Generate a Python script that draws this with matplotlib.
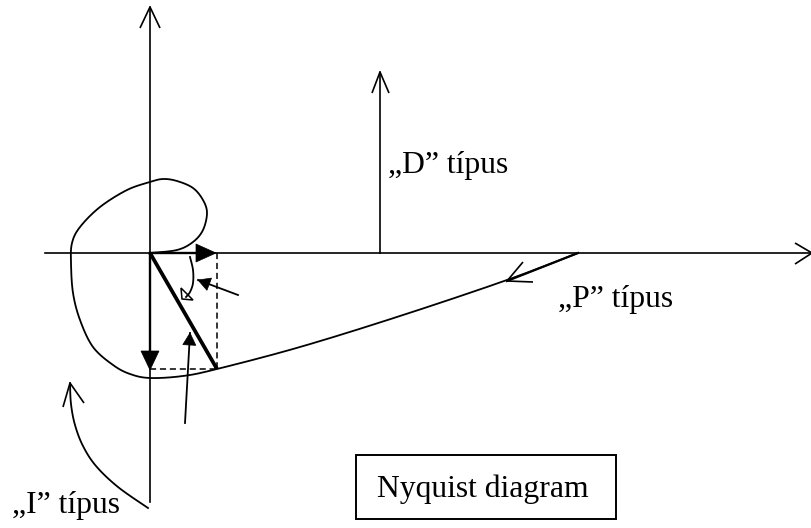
import numpy as np
import matplotlib
matplotlib.use("Agg")
import matplotlib.pyplot as plt
from matplotlib.patches import Polygon, Rectangle

# ---- diagram geometry (pixel coordinates) ----
origin = (150, 253)
h_axis_x = [45, 810]
v_axis_y = [7, 502]
h_axis_head = [(795, 243), (812, 253), (795, 264)]
v_axis_head = [(140, 28), (150, 7), (160, 28)]

d_arrow_x = 380
d_arrow_y = [253, 72]
d_arrow_head = [(372, 93), (380, 72), (389, 93)]

nyquist_x = [150, 177, 193, 203, 207, 203, 193, 177, 163, 150, 127, 100, 80, 72, 71,
             73, 80, 93, 113, 130, 150, 183, 217, 300, 400, 507, 578]
nyquist_y = [253, 250, 242, 230, 213, 200, 188, 181, 179, 182, 190, 207, 227, 243, 263,
             293, 320, 347, 365, 374, 378, 376, 369, 347, 316, 280, 253]

p_arrow_x = [578, 507]
p_arrow_y = [253, 281]
p_arrow_head = [(523, 262), (507, 281), (533, 282)]

vector_end = (217, 369)
re_head = [(216, 253), (196, 244), (196, 262)]
im_head = [(150, 370), (141, 351), (159, 351)]

angle_arc_x = [190, 193, 193, 190, 186]
angle_arc_y = [257, 270, 283, 292, 297]
angle_head = [(181, 288), (182, 299), (193, 300)]

pointer1 = [(238, 295), (198, 280)]
pointer2 = [(185, 423), (190, 333)]

i_curve_x = [148, 118, 96, 83, 75, 71, 70]
i_curve_y = [508, 487, 466, 446, 425, 404, 383]
i_head = [(63, 407), (70, 383), (84, 403)]

labels = ["\u201eD\u201d típus", "\u201eP\u201d típus", "\u201eI\u201d típus", "Nyquist diagram"]
label_pos = [(388, 173), (558, 307), (12, 513), (377, 497)]
box = (356, 455, 616, 519)

W, H = 812, 528
fig = plt.figure(figsize=(W / 100, H / 100), dpi=100)
ax = fig.add_axes([0, 0, 1, 1])
ax.set_xlim(0, W)
ax.set_ylim(H, 0)
ax.axis("off")

lw = 1.2
k = "black"


def catmull(xs, ys, n=20):
    p = np.column_stack([xs, ys]).astype(float)
    p = np.vstack([p[0], p, p[-1]])
    out = []
    for i in range(1, len(p) - 2):
        p0, p1, p2, p3 = p[i - 1], p[i], p[i + 1], p[i + 2]
        t = np.linspace(0, 1, n, endpoint=False)[:, None]
        pts = 0.5 * ((2 * p1) + (-p0 + p2) * t + (2 * p0 - 5 * p1 + 4 * p2 - p3) * t ** 2
                     + (-p0 + 3 * p1 - 3 * p2 + p3) * t ** 3)
        out.append(pts)
    out.append(p[-2][None, :])
    out = np.vstack(out)
    return out[:, 0], out[:, 1]


def polyline(pts, width=lw):
    xs, ys = zip(*pts)
    ax.plot(xs, ys, color=k, lw=width, solid_capstyle="butt", solid_joinstyle="miter")


def filled_head(tail, tip, length=12, half=6):
    tail = np.array(tail, float)
    tip = np.array(tip, float)
    d = tip - tail
    d /= np.hypot(*d)
    nrm = np.array([-d[1], d[0]])
    base = tip - d * length
    ax.add_patch(Polygon([tip, base + nrm * half, base - nrm * half], closed=True,
                         facecolor=k, edgecolor=k, lw=0.5))


# axes
ax.plot(h_axis_x, [origin[1]] * 2, color=k, lw=lw)
ax.plot([origin[0]] * 2, v_axis_y, color=k, lw=lw)
polyline(h_axis_head)
polyline(v_axis_head)

# D type
ax.plot([d_arrow_x] * 2, d_arrow_y, color=k, lw=lw)
polyline(d_arrow_head)

# Nyquist curve
cx, cy = catmull(nyquist_x, nyquist_y)
ax.plot(cx, cy, color=k, lw=1.3)

# P arrow
ax.plot(p_arrow_x, p_arrow_y, color=k, lw=1.6)
polyline(p_arrow_head)

# vector and components
ax.plot([origin[0], vector_end[0]], [origin[1], vector_end[1]], color=k, lw=2.7,
        solid_capstyle="butt")
ax.plot([vector_end[0]] * 2, [origin[1], vector_end[1]], color=k, lw=1.1, ls=(0, (4, 2.5)))
ax.plot([origin[0], vector_end[0]], [vector_end[1]] * 2, color=k, lw=1.1, ls=(0, (4, 2.5)))
ax.plot([origin[0], re_head[1][0]], [origin[1]] * 2, color=k, lw=1.7)
ax.plot([origin[0]] * 2, [origin[1], im_head[1][1]], color=k, lw=1.7)
ax.add_patch(Polygon(re_head, closed=True, facecolor=k, edgecolor=k, lw=0.5))
ax.add_patch(Polygon(im_head, closed=True, facecolor=k, edgecolor=k, lw=0.5))

# angle arc
axx, ayy = catmull(angle_arc_x, angle_arc_y)
ax.plot(axx, ayy, color=k, lw=1.3)
ax.add_patch(Polygon(angle_head, closed=True, facecolor="white", edgecolor=k, lw=1.1))

# pointers
for tail, tip in (pointer1, pointer2):
    ax.plot([tail[0], tip[0]], [tail[1], tip[1]], color=k, lw=1.3)
    filled_head(tail, tip, length=12, half=6.5)

# I type curve
ix, iy = catmull(i_curve_x, i_curve_y)
ax.plot(ix, iy, color=k, lw=1.3)
polyline(i_head)

# labels
for txt, (x, y) in zip(labels, label_pos):
    ax.text(x, y, txt, fontfamily=["Liberation Serif", "DejaVu Serif"], fontsize=22.8,
            ha="left", va="baseline", color=k)

x0, y0, x1, y1 = box
ax.add_patch(Rectangle((x0, y0), x1 - x0, y1 - y0, fill=False, edgecolor=k, lw=1.4))

fig.savefig("out.png", dpi=100, facecolor="white")
